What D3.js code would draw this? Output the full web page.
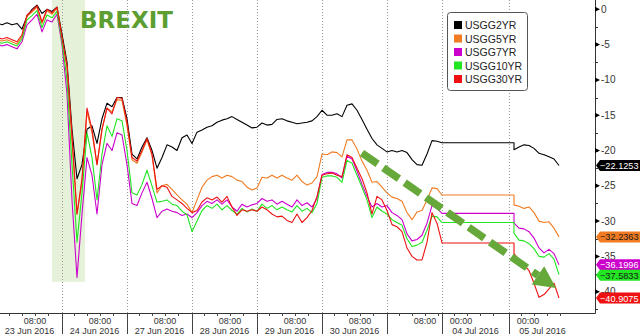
<!doctype html>
<html>
<head>
<meta charset="utf-8">
<script src="https://d3js.org/d3.v7.min.js"></script>
<style>
body { margin:0; background:#fff; }
svg { display:block; font-family:"Liberation Sans", Arial, sans-serif; }
</style>
</head>
<body>
<div id="chart"></div>
<script>
var names = ["USGG2YR", "USGG5YR", "USGG7YR", "USGG10YR", "USGG30YR"];
var colors = ["#000000", "#f07b22", "#cc00cc", "#22e622", "#ee1111"];
var lastValues = [-22.1253, -32.2363, -36.1996, -37.5833, -40.9075];
var tagTextColors = ["#ffffff", "#1a1a1a", "#ffffff", "#1a1a1a", "#ffffff"];

// x in trading days (23 Jun = 0). samples every 1/13 day
var tA = d3.range(90).map(function(i){ return i / 13; });          // 23 Jun -> 1 Jul close
var tB = d3.range(10).map(function(i){ return 7.954 + i / 13; });  // 5 Jul

// bp change
var usgg2A = [-1.9,-2.2,-1.9,-2.2,-2.0,-2.8,-1.0,0.0,0.6,-0.6,0.0,-0.3,0.3,-3.5,
  -7.5,-17,-24,-22,-17,-16.5,-19,-15.5,-13.3,-13.8,-12.5,-12.5,-15.5,
  -20.5,-21.2,-19.5,-18.2,-20,-22.5,-21,-19.2,-19.5,-20,-18.2,-17.8,-19,
  -17.4,-17.1,-16.7,-16.5,-16.0,-15.7,-15.5,-15.2,-15.6,-16,-16.4,-16.8,-16.7,
  -16.1,-16.4,-16.3,-15.6,-15.5,-15.8,-16,-16.2,-16.1,-16,-15.8,-15.2,-14.3,
  -15,-15,-14.8,-15.2,-13.6,-13.4,-14.3,-15.6,-17,-18.3,-19.2,-19.7,-20.2,
  -20,-20.2,-20,-20.3,-21.3,-22,-22.1,-20.5,-18.6,-18.7,-18.9];
var usgg2B = [-19.9,-19.5,-19.2,-19.3,-19.7,-20.4,-20.6,-20.9,-21.2,-22.1];

var usgg5A = [-4.3,-4.5,-4.3,-4.6,-4.9,-3.9,-1.0,-0.4,0.3,-2.0,-0.2,-0.7,0.2,-4.2,
  -8.2,-18.5,-29,-24.5,-14.5,-17.5,-22,-17,-14,-14.5,-12.8,-12.9,-16.5,
  -21.3,-21.8,-20.2,-18.5,-20.7,-26,-25,-24.8,-25.5,-26.3,-27,-27.6,-28.8,
  -27,-25.2,-24.2,-23.7,-23.5,-23.9,-23.5,-23.7,-24.2,-24.4,-25.2,-25.6,-25.3,
  -23.8,-23.9,-23.5,-23.9,-23.5,-23.9,-24.2,-23.5,-24.4,-24.9,-24.6,-23.7,-20.5,
  -20.6,-20.2,-20.3,-20.9,-18.5,-18.5,-19.8,-21.5,-22.8,-24.5,-24.4,-25.2,-26,
  -26.6,-26.8,-27.2,-28.8,-29.8,-28.7,-28.5,-27,-25.3,-25.4,-26.3];
var usgg5B = [-27.7,-27.9,-28.2,-28.0,-28.8,-30.0,-30.2,-30.1,-31.0,-32.2];

var usgg7A = [-4.9,-5.2,-5.0,-5.3,-5.6,-4.6,-2.2,-1.5,-0.7,-3.2,-1.5,-1.8,-0.7,-5.0,
  -12,-27,-38,-29,-21,-23.5,-29,-22,-19,-20,-17.5,-17.8,-22,
  -27.5,-27.8,-26,-24.5,-26.8,-29.5,-28.6,-28.3,-28.6,-28.8,-29.2,-29,-29.5,
  -28.8,-27.8,-27.2,-27.5,-27,-27.6,-27,-28,-28.6,-27.6,-28,-27.7,-27.5,
  -26.8,-27.2,-27,-27.6,-27.2,-27.6,-28,-27,-27.8,-27.4,-28,-26.8,-23.4,
  -23.1,-23.1,-23.3,-23.9,-20.8,-21.2,-22.9,-24.8,-26.5,-28,-27.5,-28,-27.8,
  -28.8,-29.2,-29.8,-31.8,-32.8,-32.6,-32,-30.3,-27.8,-28.2,-28.9];
var usgg7B = [-30.3,-31.0,-31.1,-31.5,-32.4,-33.8,-34.5,-34.0,-34.6,-36.2];

var usgg10A = [-4.6,-4.8,-4.6,-4.9,-5.2,-4.2,-1.5,-0.9,-0.2,-2.6,-0.8,-1.2,-0.3,-4.6,
  -10,-22,-33,-26,-17.5,-21,-27,-20.5,-16.5,-18,-15.5,-15.8,-20,
  -26,-26.3,-24.8,-22.8,-25,-27.3,-27.2,-27,-27.6,-27.8,-28.6,-29.1,-31.5,
  -30,-28.5,-27.8,-28.2,-27.6,-28.4,-27.8,-28.5,-29,-28.2,-28.7,-28.3,-28.6,
  -27.6,-28.2,-27.8,-28.4,-28.0,-28.4,-28.7,-27.8,-28.6,-28.2,-28.8,-27.5,-23.8,
  -23.6,-23.6,-23.8,-24.5,-21.4,-21.8,-23.5,-25.2,-27,-29.5,-28,-28.6,-29,
  -29.8,-30.2,-30.6,-32.5,-33.6,-33.4,-33,-31.3,-29.3,-29.4,-30.2];
var usgg10B = [-31.7,-32.7,-32.8,-33.2,-33.9,-35.0,-35.1,-34.6,-35.4,-37.6];

var usgg30A = [-4.0,-4.2,-4.0,-4.3,-4.6,-3.6,-0.8,-0.2,0.5,-1.8,0.0,-0.5,0.3,-4.0,
  -8,-18,-29,-24,-14,-17,-22,-17,-14,-14.8,-12.5,-12.6,-16,
  -21,-21.5,-20,-18.3,-20.5,-25.5,-25,-25.2,-26.5,-27,-27.5,-28.2,-28.8,
  -28.5,-27.3,-26.7,-27,-26.6,-27.3,-26.5,-28,-29.2,-28.4,-28.6,-28.4,-28.6,
  -28,-28.4,-29,-29.4,-29.3,-29.9,-30.2,-29,-30.2,-29.5,-28.5,-26.5,-23.5,
  -23.3,-23.2,-23.5,-23.7,-20.6,-21,-22.5,-24,-26,-29,-26.5,-27,-28.5,
  -30.5,-30.8,-31.5,-33.8,-35,-35.5,-35.5,-33,-28.8,-30.3,-33.1];
var usgg30B = [-34.6,-35.5,-36.2,-37.0,-38.8,-40.8,-40.4,-39.6,-38.8,-40.9];

var valuesA = [usgg2A, usgg5A, usgg7A, usgg10A, usgg30A];
var valuesB = [usgg2B, usgg5B, usgg7B, usgg10B, usgg30B];

// x axis: sessions
var dayLabels = ["23 Jun 2016","24 Jun 2016","27 Jun 2016","28 Jun 2016","29 Jun 2016","30 Jun 2016","","04 Jul 2016","05 Jul 2016"];
var dayStarts = [0, 1, 2, 3, 4, 5, 6, 6.846, 7.877, 8.908];
var hourLabels = ["08:00","08:00","08:00","08:00","08:00","08:00","08:00","00:00","00:00"];
var hourOffsets = [0.585, 0.585, 0.585, 0.585, 0.585, 0.585, 0.585, 0.292, 0.292];
var yTicks = d3.range(0, -41, -5);

var W = 640, H = 334, plotR = 595, plotB = 313;

var x = d3.scaleLinear().domain([0, 9.2]).range([-3, plotR]);
var y = d3.scaleLinear().domain([0, -40]).range([9.3, 291.7]);

var svg = d3.select("#chart").append("svg")
  .attr("width", W).attr("height", H);

svg.append("defs").append("clipPath").attr("id", "plot")
  .append("rect").attr("x", 0).attr("y", 0).attr("width", plotR).attr("height", plotB);

// brexit shading
svg.append("rect")
  .attr("x", x(0.846)).attr("y", 0)
  .attr("width", x(1.354) - x(0.846)).attr("height", y(-38.6))
  .attr("fill", "#e5f2d9");

svg.append("text")
  .attr("x", 80).attr("y", 28)
  .attr("font-family", "DejaVu Sans").attr("font-weight", "bold").attr("font-size", 23)
  .attr("fill", "#5c9e31")
  .text("BREXIT");

// day separators
svg.append("g").selectAll("line")
  .data(dayStarts.slice(1, 9))
  .enter().append("line")
  .attr("x1", function(d){ return Math.round(x(d)) + 0.5; })
  .attr("x2", function(d){ return Math.round(x(d)) + 0.5; })
  .attr("y1", 0).attr("y2", plotB)
  .attr("stroke", "#9a9a9a").attr("stroke-dasharray", "1,2");

// series
var series = names.map(function(n, k){
  var pts = tA.map(function(t, i){ return [t, valuesA[k][i]]; });
  // holiday: last value held until the next print
  pts.push([tB[0], valuesA[k][valuesA[k].length - 1]]);
  tB.forEach(function(t, i){
    var v = (i == tB.length - 1) ? lastValues[k] : valuesB[k][i];
    pts.push([t, v]);
  });
  return {name: n, color: colors[k], pts: pts};
});

var line = d3.line()
  .x(function(d){ return x(d[0]); })
  .y(function(d){ return y(d[1]); });

svg.append("g").attr("clip-path", "url(#plot)")
  .selectAll("path")
  .data(series)
  .enter().append("path")
  .attr("d", function(d){ return line(d.pts); })
  .attr("fill", "none")
  .attr("stroke", function(d){ return d.color; })
  .attr("stroke-width", 1.1)
  .attr("stroke-linejoin", "round");

// dashed trend arrow
var a0 = [x(5.615), y(-20.35)], a1 = [x(8.6), y(-39.47)];
var dx = a1[0] - a0[0], dy = a1[1] - a0[1], len = Math.sqrt(dx*dx + dy*dy);
var ux = dx / len, uy = dy / len, headL = 22, headW = 11;
var shaftEnd = [a1[0] - ux * headL, a1[1] - uy * headL];
svg.append("line")
  .attr("x1", a0[0]).attr("y1", a0[1])
  .attr("x2", shaftEnd[0]).attr("y2", shaftEnd[1])
  .attr("stroke", "#66a83a").attr("stroke-width", 7.5)
  .attr("stroke-dasharray", "19,7");
svg.append("path")
  .attr("d", "M" + a1[0] + "," + a1[1] +
    "L" + (shaftEnd[0] - uy * headW) + "," + (shaftEnd[1] + ux * headW) +
    "L" + (shaftEnd[0] + uy * headW) + "," + (shaftEnd[1] - ux * headW) + "Z")
  .attr("fill", "#66a83a");

// legend
var lg = svg.append("g");
lg.append("rect")
  .attr("x", 447.5).attr("y", 12.5).attr("width", 80).attr("height", 78).attr("rx", 3)
  .attr("fill", "#fff").attr("stroke", "#555");
names.forEach(function(n, k){
  lg.append("rect")
    .attr("x", 454).attr("y", 21 + k * 13.5).attr("width", 8).attr("height", 8)
    .attr("fill", colors[k]);
  lg.append("text")
    .attr("x", 465).attr("y", 29 + k * 13.5)
    .attr("font-size", 10.5).attr("fill", "#222")
    .text(n);
});

// axes
svg.append("line")
  .attr("x1", 0).attr("x2", plotR + 0.5).attr("y1", plotB + 0.5).attr("y2", plotB + 0.5)
  .attr("stroke", "#333");
svg.append("line")
  .attr("x1", plotR + 0.5).attr("x2", plotR + 0.5).attr("y1", 0).attr("y2", plotB + 0.5)
  .attr("stroke", "#333");

var yAx = svg.append("g");
d3.range(0, -43, -2.5).forEach(function(v){
  yAx.append("line")
    .attr("x1", plotR).attr("x2", plotR + 3)
    .attr("y1", Math.round(y(v)) + 0.5).attr("y2", Math.round(y(v)) + 0.5)
    .attr("stroke", "#333");
});
yTicks.forEach(function(v){
  var yy = y(v);
  yAx.append("path")
    .attr("d", "M" + plotR + "," + (yy - 2.5) + "L" + (plotR + 5) + "," + yy + "L" + plotR + "," + (yy + 2.5) + "Z")
    .attr("fill", "#000");
  yAx.append("text")
    .attr("x", plotR + 6).attr("y", yy + 3.5)
    .attr("font-size", 10).attr("fill", "#333")
    .text(v);
});

var xAx = svg.append("g");
dayStarts.slice(1, 9).forEach(function(d){
  xAx.append("line")
    .attr("x1", Math.round(x(d)) + 0.5).attr("x2", Math.round(x(d)) + 0.5)
    .attr("y1", plotB).attr("y2", H)
    .attr("stroke", "#444");
});
dayLabels.forEach(function(lab, k){
  var s = dayStarts[k], e = dayStarts[k + 1];
  [0.19, 0.39, 0.585, 0.78].forEach(function(f){
    if (s + f < e - 0.05 && x(s + f) < plotR) {
      xAx.append("line")
        .attr("x1", Math.round(x(s + f)) + 0.5).attr("x2", Math.round(x(s + f)) + 0.5)
        .attr("y1", plotB).attr("y2", plotB + 3)
        .attr("stroke", "#444");
    }
  });
  xAx.append("text")
    .attr("x", x(s + hourOffsets[k])).attr("y", 324)
    .attr("text-anchor", "middle").attr("font-size", 9).attr("fill", "#333")
    .text(hourLabels[k]);
  xAx.append("text")
    .attr("x", x((s + e) / 2)).attr("y", 333.5)
    .attr("text-anchor", "middle").attr("font-size", 9).attr("fill", "#333")
    .text(lab);
});

// last value tags
var tags = lastValues.map(function(v, k){ return {v: v, k: k, y: y(v)}; });
tags.sort(function(a, b){ return a.y - b.y; });
for (var i = 1; i < tags.length; i++) {
  if (tags[i].y - tags[i-1].y < 10.5) tags[i].y = tags[i-1].y + 10.5;
}
tags.forEach(function(t){
  var g = svg.append("g");
  g.append("path")
    .attr("d", "M" + (plotR + 1) + "," + t.y + "L" + (plotR + 5) + "," + (t.y - 5.5) +
      "L640," + (t.y - 5.5) + "L640," + (t.y + 5.5) + "L" + (plotR + 5) + "," + (t.y + 5.5) + "Z")
    .attr("fill", colors[t.k]);
  g.append("text")
    .attr("x", plotR + 5).attr("y", t.y + 3.4)
    .attr("font-size", 9.2).attr("fill", tagTextColors[t.k])
    .text(d3.format(".4f")(t.v));
});
</script>
</body>
</html>
